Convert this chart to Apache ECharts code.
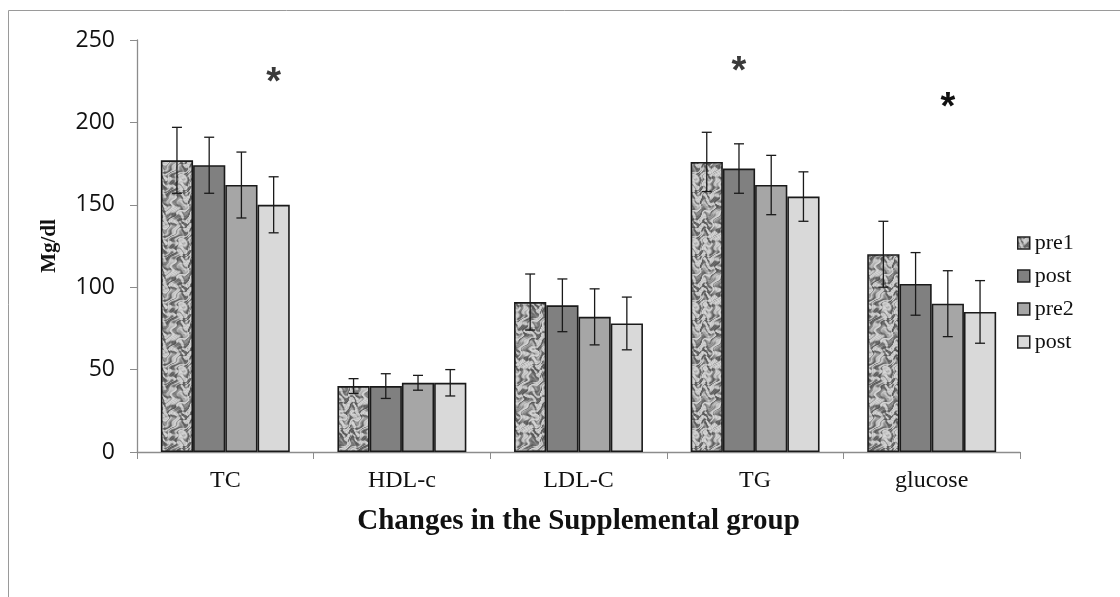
<!DOCTYPE html>
<html>
<head>
<meta charset="utf-8">
<script src="https://cdn.jsdelivr.net/npm/echarts@6/dist/echarts.min.js"></script>
<style>
html,body{margin:0;padding:0;background:#fff;}
#main{width:1120px;height:597px;}
</style>
</head>
<body>
<div id="main"></div>
<script>
// ---- data ----
var categories = ['TC', 'HDL-c', 'LDL-C', 'TG', 'glucose'];
var seriesNames = ['pre1', 'post1', 'pre2', 'post2'];
var pre1 = [177, 40, 91, 176, 120];
var post1 = [174, 40, 89, 172, 102];
var pre2 = [162, 42, 82, 162, 90];
var post2 = [150, 42, 78, 155, 85];
var pre1Err = [20, 4.5, 17, 18, 20];
var post1Err = [17, 7.5, 16, 15, 19];
var pre2Err = [20, 4.5, 17, 18, 20];
var post2Err = [17, 8, 16, 15, 19];
var yTicks = [0, 50, 100, 150, 200, 250];
// significance markers: category, series index it sits over, height (mg/dl)
var sigCategories = ['TC', 'TG', 'glucose'];
var sigSeries = [3, 1, 2];
var sigValues = [229, 236, 214];

// ---- texture for pre1 (deterministic mottled granite look) ----
function makeGranite() {
  var N = 64;
  var c = document.createElement('canvas');
  c.width = N; c.height = N;
  var ctx = c.getContext('2d');
  var img = ctx.createImageData(N, N);
  var T = Math.PI * 2 / N;
  for (var y = 0; y < N; y++) {
    for (var x = 0; x < N; x++) {
      var wx = x + 3 * Math.sin(y * T * 3) + 2 * Math.sin(y * T * 7 + 1);
      var wy = y + 3 * Math.cos(x * T * 4) + 2 * Math.sin(x * T * 6 + 2);
      var v = Math.sin(wx * T * 5 + wy * T * 2) +
              Math.sin(wy * T * 6 - wx * T * 3 + 1.3) +
              Math.sin(wx * T * 9 + wy * T * 7 + 2.1) * 0.8 +
              Math.cos(wx * T * 4 - wy * T * 8 + 0.7) * 0.8 +
              Math.sin(wx * T * 13 + wy * T * 11) * 0.4;
      var t = Math.tanh(1.0 * (v - 0.4));
      var g = Math.round(150 - 55 * t + 10 * Math.sin(wx * T * 17 + wy * T * 15));
      g = Math.max(55, Math.min(230, g));
      var i = (y * N + x) * 4;
      img.data[i] = g; img.data[i + 1] = g; img.data[i + 2] = g; img.data[i + 3] = 255;
    }
  }
  ctx.putImageData(img, 0, 0);
  return c;
}
var granite = makeGranite();

var values = [pre1, post1, pre2, post2];
var errs = [pre1Err, post1Err, pre2Err, post2Err];
var fills = [{image: granite, repeat: 'repeat'}, '#808080', '#a6a6a6', '#d9d9d9'];
var CAT_GAP = 0.27;

var series = [];
seriesNames.forEach(function (name, s) {
  series.push({
    name: name,
    type: 'bar',
    data: values[s],
    barCategoryGap: (CAT_GAP * 100) + '%',
    barGap: '0%',
    itemStyle: {color: fills[s], borderColor: '#1a1a1a', borderWidth: 1.6},
    z: 2
  });
});

function barCenter(api, catIdx, sIdx) {
  var x = api.coord([catIdx, 0])[0];
  var band = api.size([1, 0])[0];
  var gw = band * (1 - CAT_GAP);
  var bw = gw / seriesNames.length;
  return x - gw / 2 + bw * (sIdx + 0.5);
}

var errData = [];
for (var s = 0; s < 4; s++) {
  for (var c = 0; c < categories.length; c++) {
    errData.push([c, s, values[s][c] - errs[s][c], values[s][c] + errs[s][c]]);
  }
}
series.push({
  type: 'custom',
  name: 'err',
  data: errData,
  z: 5,
  silent: true,
  renderItem: function (params, api) {
    var c = api.value(0), s = api.value(1);
    var xc = barCenter(api, c, s);
    var yl = api.coord([c, api.value(2)])[1];
    var yh = api.coord([c, api.value(3)])[1];
    var cap = 5;
    var st = {stroke: '#1a1a1a', lineWidth: 1.3};
    return {type: 'group', children: [
      {type: 'line', shape: {x1: xc, y1: yl, x2: xc, y2: yh}, style: st},
      {type: 'line', shape: {x1: xc - cap, y1: yh, x2: xc + cap, y2: yh}, style: st},
      {type: 'line', shape: {x1: xc - cap, y1: yl, x2: xc + cap, y2: yl}, style: st}
    ]};
  }
});

var sigData = sigCategories.map(function (cat, i) {
  return [categories.indexOf(cat), sigSeries[i], sigValues[i]];
});
series.push({
  type: 'custom',
  name: 'sig',
  data: sigData,
  z: 6,
  silent: true,
  renderItem: function (params, api) {
    var c = api.value(0), s = api.value(1);
    var xc = barCenter(api, c, s);
    var y = api.coord([c, api.value(2)])[1];
    return {type: 'text', style: {
      text: '*', x: xc, y: y + 9, align: 'center', verticalAlign: 'middle',
      font: 'bold 38px "Liberation Sans"', fill: params.dataIndex === 2 ? '#111' : '#3a3a3a'
    }};
  }
});

var chart = echarts.init(document.getElementById('main'), null, {renderer: 'canvas'});
chart.setOption({
  animation: false,
  backgroundColor: '#fff',
  graphic: [{
    type: 'rect', silent: true, z: -10,
    shape: {x: 8.5, y: 10.5, width: 1200, height: 700},
    style: {fill: 'none', stroke: '#9a9a9a', lineWidth: 1}
  }],
  grid: {left: 137, right: 100, top: 40, bottom: 145},
  legend: {
    orient: 'vertical',
    left: 1012,
    top: 227,
    itemWidth: 12,
    itemHeight: 12,
    itemGap: 11,
    icon: 'rect',
    data: seriesNames,
    itemStyle: {borderColor: '#222', borderWidth: 1.5},
    textStyle: {
      fontFamily: '"Liberation Serif"', fontSize: 22, color: '#111',
      width: 44, overflow: 'truncate', ellipsis: ''
    }
  },
  xAxis: {
    type: 'category',
    data: categories,
    name: 'Changes in the Supplemental group',
    nameLocation: 'middle',
    nameGap: 55,
    nameTextStyle: {fontFamily: '"Liberation Serif"', fontSize: 29, fontWeight: 'bold', color: '#111'},
    axisLine: {lineStyle: {color: '#8c8c8c', width: 1.3}},
    axisTick: {show: true, alignWithLabel: false, length: 7, lineStyle: {color: '#8c8c8c'}},
    axisLabel: {fontFamily: '"Liberation Serif"', fontSize: 24, color: '#111', margin: 17}
  },
  yAxis: {
    type: 'value',
    min: yTicks[0],
    max: yTicks[yTicks.length - 1],
    interval: yTicks[1] - yTicks[0],
    name: 'Mg/dl',
    nameLocation: 'middle',
    nameRotate: 90,
    nameGap: 77,
    nameTextStyle: {fontFamily: '"Liberation Serif"', fontSize: 21, fontWeight: 'bold', color: '#111'},
    axisLine: {show: true, lineStyle: {color: '#8c8c8c', width: 1.3}},
    axisTick: {show: true, length: 7, lineStyle: {color: '#8c8c8c'}},
    splitLine: {show: false},
    axisLabel: {fontFamily: '"Open Sans"', fontSize: 23, color: '#111', margin: 22}
  },
  series: series
});
</script>
</body>
</html>
